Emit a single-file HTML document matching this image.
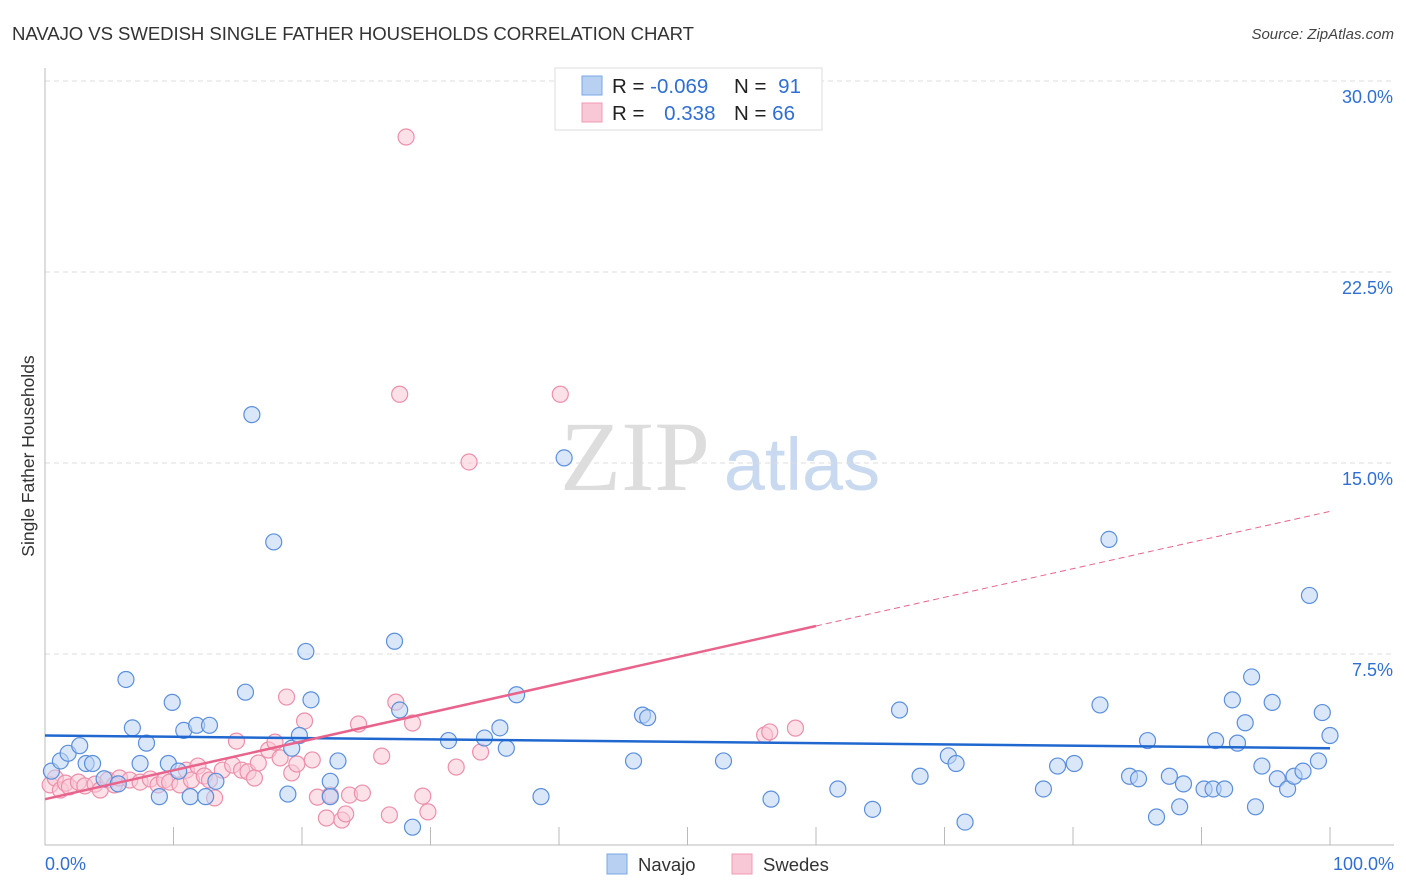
<!DOCTYPE html>
<html><head><meta charset="utf-8"><style>
body{margin:0;background:#fff;font-family:"Liberation Sans",sans-serif;}
svg{display:block}
</style></head><body>
<svg id="chart" width="1406" height="892" viewBox="0 0 1406 892" font-family="Liberation Sans, sans-serif">
<text x="12" y="40" font-size="18.6" fill="#333" textLength="682">NAVAJO VS SWEDISH SINGLE FATHER HOUSEHOLDS CORRELATION CHART</text>
<text x="1394" y="39" font-size="15" fill="#444" text-anchor="end" font-style="italic">Source: ZipAtlas.com</text>
<text transform="translate(34,456) rotate(-90)" font-size="17.5" fill="#333" text-anchor="middle">Single Father Households</text>
<g><text x="635" y="490" font-size="100" fill="#ddd" text-anchor="middle" font-family="Liberation Serif, serif">ZIP</text><text x="802" y="490" font-size="74" fill="#c8d9f0" text-anchor="middle">atlas</text></g>
<g id="grid"></g><g id="axes"></g><g id="pts"></g><g id="trend"></g>
<g>
<rect x="555" y="68" width="267" height="62" fill="#fff" stroke="#ddd"/>
<rect x="582" y="76" width="20" height="19" fill="#b8d1f3" stroke="#7aa7e6"/>
<rect x="582" y="103" width="20" height="19" fill="#f9c8d6" stroke="#f09ab3"/>
<text x="612" y="93" font-size="20.5" fill="#222">R = <tspan fill="#2f6fd3">-0.069</tspan></text>
<text x="734" y="93" font-size="20.5" fill="#222">N = <tspan fill="#2f6fd3" dx="6">91</tspan></text>
<text x="612" y="120" font-size="20.5" fill="#222">R = <tspan fill="#2f6fd3" dx="14">0.338</tspan></text>
<text x="734" y="120" font-size="20.5" fill="#222">N = <tspan fill="#2f6fd3">66</tspan></text>
</g>
<g>
<rect x="607" y="854" width="20" height="20" fill="#b8d1f3" stroke="#7aa7e6"/>
<text x="638" y="871" font-size="18.5" fill="#333">Navajo</text>
<rect x="732" y="854" width="20" height="20" fill="#f9c8d6" stroke="#f09ab3"/>
<text x="763" y="871" font-size="18.5" fill="#333">Swedes</text>
</g>
</svg>
<script>
const yTicks=[7.5,15,22.5,30];
const yTickLabels=["7.5%","15.0%","22.5%","30.0%"];
const xTickLabels=["0.0%","100.0%"];
const navajoX=[0.5,1.2,1.8,2.7,3.2,3.7,4.6,5.7,6.3,6.8,7.4,7.9,8.9,9.6,9.9,10.4,10.8,11.3,11.8,12.5,12.8,13.3,15.6,16.1,17.8,18.9,19.2,19.8,20.3,20.7,22.2,22.2,22.8,27.2,27.6,28.6,31.4,34.2,35.4,35.9,36.7,38.6,40.4,45.8,46.5,46.9,52.8,56.5,61.7,64.4,66.5,68.1,70.3,70.9,71.6,77.7,78.8,80.1,82.1,82.8,84.4,85.1,85.8,86.5,87.5,88.3,88.6,90.2,91.1,90.9,91.8,92.4,92.8,93.4,93.9,94.2,94.7,95.5,95.9,96.7,97.2,97.9,98.4,99.1,99.4,100];
const navajoY=[2.9,3.3,3.6,3.9,3.2,3.2,2.6,2.4,6.5,4.6,3.2,4.0,1.9,3.2,5.6,2.9,4.5,1.9,4.7,1.9,4.7,2.5,6.0,16.9,11.9,2.0,3.8,4.3,7.6,5.7,2.5,1.9,3.3,8.0,5.3,0.7,4.1,4.2,4.6,3.8,5.9,1.9,15.2,3.3,5.1,5.0,3.3,1.8,2.2,1.4,5.3,2.7,3.5,3.2,0.9,2.2,3.1,3.2,5.5,12.0,2.7,2.6,4.1,1.1,2.7,1.5,2.4,2.2,4.1,2.2,2.2,5.7,4.0,4.8,6.6,1.5,3.1,5.6,2.6,2.2,2.7,2.9,9.8,3.3,5.2,4.3];
const swedesX=[0.4,0.8,1.2,1.6,1.9,2.6,3.1,3.9,4.3,4.9,5.4,5.8,6.6,7.4,8.2,8.8,9.3,9.7,10.5,11.0,11.4,11.9,12.4,12.8,13.2,13.8,14.6,14.9,15.3,15.8,16.3,16.6,17.4,17.9,18.3,18.8,19.2,19.6,20.2,20.8,21.2,21.9,22.2,23.1,23.4,23.7,24.4,24.7,26.2,26.8,27.3,27.6,28.1,28.6,29.4,29.8,32.0,33.0,33.9,40.1,56.0,56.4,58.4];
const swedesY=[2.36,2.63,2.16,2.43,2.28,2.47,2.32,2.39,2.16,2.55,2.36,2.63,2.55,2.47,2.59,2.36,2.55,2.47,2.36,2.94,2.55,3.10,2.71,2.55,1.85,2.94,3.14,4.08,2.94,2.87,2.63,3.22,3.73,4.04,3.42,5.81,2.83,3.18,4.87,3.34,1.88,1.06,1.96,0.98,1.22,1.96,4.75,2.04,3.49,1.18,5.61,17.7,27.8,4.79,1.92,1.30,3.06,15.04,3.65,17.7,4.32,4.44,4.59];
const X0=45,X1=1330,Y0=845,PX=(X1-X0)/100,PY=(845-81)/30;
const sx=v=>X0+v*PX, sy=v=>Y0-v*PY;
const NS="http://www.w3.org/2000/svg";
function mk(tag,attrs,parent){const e=document.createElementNS(NS,tag);for(const k in attrs)e.setAttribute(k,attrs[k]);parent.appendChild(e);return e;}
const grid=document.getElementById('grid'),axes=document.getElementById('axes'),pts=document.getElementById('pts'),trend=document.getElementById('trend');
yTicks.forEach((t,i)=>{
 const l=mk('line',{x1:X0,x2:1394,y1:sy(t),y2:sy(t),stroke:'#ddd','stroke-dasharray':'5,4'},grid);
 
 
 const tx=mk('text',{x:1393,y:sy(t)+22,'font-size':18,fill:'#2f6fd3','text-anchor':'end'},axes);
 tx.textContent=yTickLabels[i];
 
 
});
const ax=mk('path',{d:`M${X0} 68V${Y0}H1394`,stroke:'#bbb',fill:'none'},axes);


for(let i=1;i<=10;i++){const t=mk('line',{x1:sx(i*10),x2:sx(i*10),y1:Y0-18,y2:Y0,stroke:'#bbb'},axes);
 
 }
[[0,'start',45],[100,'end',1394]].forEach((d,i)=>{const t=mk('text',{x:d[2],y:870,'font-size':18,fill:'#2f6fd3','text-anchor':d[1]},axes);t.textContent=xTickLabels[i];
 
 });
function dots(xs,ys,fill,stroke,name){xs.forEach((x,i)=>{if(ys[i]===undefined)return;const c=mk('circle',{cx:sx(x),cy:sy(ys[i]),r:8,fill:fill,'fill-opacity':0.55,stroke:stroke,'stroke-width':1.2},pts);
 
 });}
dots(swedesX,swedesY,'#f9c8d6','#ec8fab','swedes-point');
dots(navajoX,navajoY,'#bcd4f4','#5b8fdc','navajo-point');
const b=mk('line',{x1:sx(0),y1:sy(4.3),x2:sx(100),y2:sy(3.8),stroke:'#2068d0','stroke-width':2.5},trend);


const p1=mk('line',{x1:sx(0),y1:sy(1.8),x2:sx(60),y2:sy(8.6),stroke:'#e8648c','stroke-width':2.5},trend);


const p2=mk('line',{x1:sx(60),y1:sy(8.6),x2:sx(100),y2:sy(13.1),stroke:'#e8648c','stroke-width':1,'stroke-dasharray':'6,4'},trend);


</script>
</body></html>
